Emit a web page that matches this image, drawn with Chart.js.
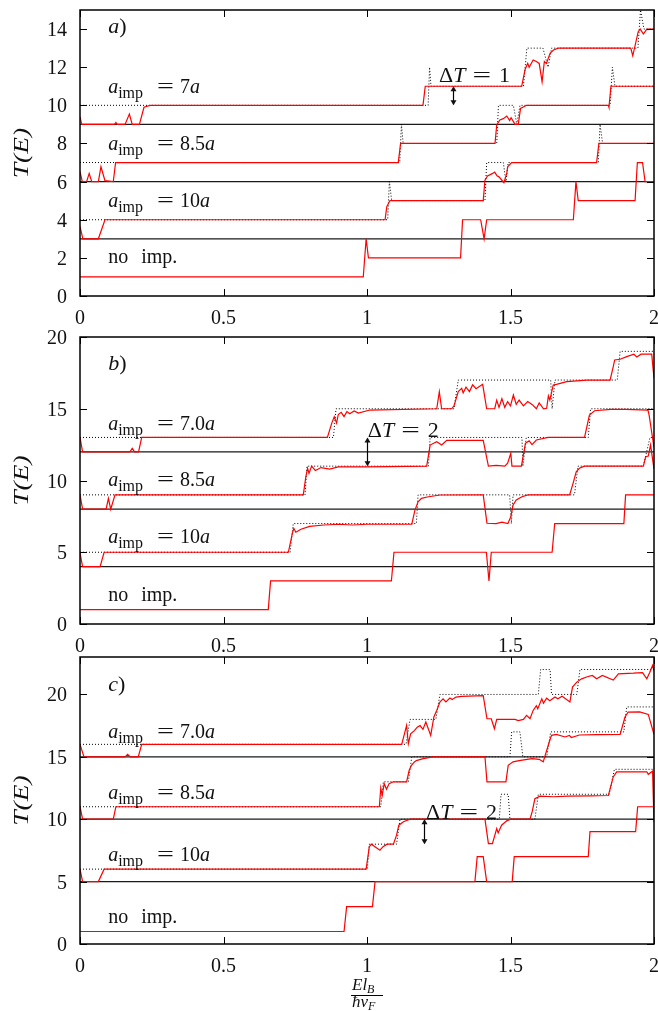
<!DOCTYPE html>
<html>
<head>
<meta charset="utf-8">
<script src="https://cdn.jsdelivr.net/npm/chart.js@4.4.1/dist/chart.umd.min.js"></script>
<style>
  html, body { margin: 0; padding: 0; background: #fff; }
  #wrap { position: relative; width: 658px; height: 1011px; }
  #wrap canvas { position: absolute; left: 0; }
</style>
</head>
<body>
<div id="wrap">
  <canvas id="panel-a" width="658" height="340" style="top:0px"></canvas>
  <canvas id="panel-b" width="658" height="340" style="top:320px"></canvas>
  <canvas id="panel-c" width="658" height="371" style="top:640px"></canvas>
</div>
<script>
// ---- panel a) : offsets 3 / 6 / 9 ----
const A_OFFSETS = [3, 6, 9];
const A_NOIMP = [[0,1],[0.987,1],[0.997,3],[1.005,2],[1.326,2],[1.333,4],[1.396,4],[1.408,3],[1.417,4],[1.719,4],[1.728,6],[1.736,5],[1.934,5],[1.942,7],[1.960,7],[1.969,6],[2,6]];
const A_10_CLEAN = [[0,4],[1.072,4],[1.078,6],[1.086,5],[1.411,5],[1.417,7],[1.475,7],[1.484,6],[1.492,7],[1.806,7],[1.812,9],[1.821,8],[2,8]];
const A_10_IMP = [[0,3.65],[0.01,3],[0.064,3],[0.087,4],[1.063,4],[1.069,4.69],[1.08,5],[1.405,5],[1.411,6.08],[1.42,6.3],[1.438,6.43],[1.445,6.5],[1.453,6.3],[1.46,6.25],[1.477,5.94],[1.487,6.43],[1.49,6.78],[1.504,7],[1.8,7],[1.808,8],[2,8]];
const A_85_CLEAN = [[0,7],[1.114,7],[1.12,9],[1.126,8],[1.452,8],[1.458,10],[1.51,10],[1.522,9],[1.533,10],[1.847,10],[1.855,12],[1.864,11],[2,11]];
const A_85_IMP = [[0,6.52],[0.008,6],[0.023,6],[0.032,6.43],[0.041,6],[0.064,6],[0.073,6.78],[0.087,6.05],[0.116,6],[0.124,7],[1.109,7],[1.117,8],[1.446,8],[1.452,8.97],[1.463,9.23],[1.475,9.3],[1.487,9.44],[1.497,9.2],[1.502,9.35],[1.516,9],[1.527,9],[1.535,9.84],[1.556,10],[1.841,10],[1.843,9.9],[1.85,11],[2,11]];
const A_7_CLEAN = [[0,10],[1.213,10],[1.218,12],[1.223,11],[1.545,11],[1.557,13],[1.613,13],[1.631,12],[1.643,13],[1.944,13],[1.953,15],[1.965,14],[2,14]];
const A_7_IMP = [[0,9.4],[0.006,9],[0.12,9],[0.125,9.1],[0.13,9],[0.157,9],[0.172,9.54],[0.182,9],[0.207,9],[0.223,9.9],[0.244,10],[1.195,10],[1.203,11],[1.539,11],[1.551,11.89],[1.56,12.2],[1.565,12],[1.579,12.38],[1.59,12.3],[1.6,12.2],[1.61,11.24],[1.618,12.3],[1.625,12.2],[1.638,12.73],[1.65,12.9],[1.667,13],[1.919,13],[1.926,12.6],[1.945,13.86],[1.952,14],[1.963,13.74],[1.975,14],[2,14]];

// ---- panel b) : offsets 4 / 8 / 12 ----
const B_OFFSETS = [4, 8, 12];
const B_NOIMP = [[0,1],[0.656,1],[0.664,3],[1.085,3],[1.094,5],[1.416,5],[1.425,3],[1.433,5],[1.645,5],[1.654,7],[1.895,7],[1.901,9],[2,9]];
const B_10_CLEAN = [[0,5],[0.732,5],[0.743,7],[1.172,7],[1.178,9],[1.497,9],[1.503,7],[1.509,9],[1.723,9],[1.735,11],[1.963,11],[1.986,13],[2,13]];
const B_10_IMP = [[0,4.95],[0.009,4],[0.07,4],[0.084,5],[0.726,5],[0.74,6.32],[0.745,6.67],[0.752,6.4],[0.77,6.6],[0.8,6.8],[0.85,6.9],[0.9,6.95],[0.95,6.9],[1.0,6.95],[1.156,6.95],[1.167,7.94],[1.178,8.52],[1.19,8.76],[1.21,8.85],[1.254,8.99],[1.405,9],[1.418,7.02],[1.45,7],[1.47,7.1],[1.491,7],[1.501,7.48],[1.509,8.29],[1.52,8.64],[1.54,8.87],[1.561,9],[1.706,9],[1.718,9.8],[1.729,10.61],[1.74,10.85],[1.758,11],[1.963,11],[1.971,11.66],[1.98,11.7],[1.988,12.47],[2,10.8]];
const B_85_CLEAN = [[0,9],[0.784,9],[0.791,11],[1.214,11],[1.22,13],[1.54,13],[1.543,11],[1.555,13],[1.771,13],[1.779,15],[2,15]];
const B_85_IMP = [[0,9],[0.009,8],[0.091,8],[0.099,8.76],[0.107,8],[0.122,9],[0.778,9],[0.787,10.27],[0.793,10.85],[0.798,10.5],[0.807,11],[0.82,10.7],[0.84,10.9],[0.87,10.8],[0.9,10.95],[1.0,10.95],[1.208,11],[1.22,12.47],[1.243,12.7],[1.26,12.47],[1.278,12.8],[1.3,12.8],[1.405,12.8],[1.423,11],[1.45,11.05],[1.48,11],[1.49,11.2],[1.501,11.9],[1.505,11],[1.538,11],[1.552,12.59],[1.565,12.76],[1.575,12.5],[1.59,12.82],[1.631,13],[1.758,13],[1.775,14.56],[1.793,14.86],[1.85,14.95],[1.9,14.95],[1.979,14.9],[1.983,14.56],[2,12.3]];
const B_7_CLEAN = [[0,13],[0.883,13],[0.892,15],[1.303,15],[1.318,17],[1.64,17],[1.645,15],[1.655,17],[1.872,17],[1.882,19],[2,19]];
const B_7_IMP = [[0,13],[0.009,12],[0.174,12],[0.182,12.24],[0.19,12],[0.204,12],[0.215,13],[0.862,13],[0.877,13.98],[0.886,14.45],[0.894,14],[0.9,14.6],[0.91,14.75],[0.92,14.45],[0.93,14.8],[0.94,14.65],[0.955,14.85],[0.97,14.7],[1.01,14.91],[1.243,15],[1.252,16.19],[1.26,15],[1.295,15],[1.303,15.2],[1.318,16.19],[1.33,16.42],[1.335,16.1],[1.345,16.5],[1.357,16.2],[1.368,16.66],[1.38,16.4],[1.403,16.7],[1.417,15],[1.445,15],[1.452,15.6],[1.46,15.1],[1.47,15.7],[1.48,15.1],[1.49,15.5],[1.5,15.2],[1.51,15.96],[1.52,15.3],[1.53,15.6],[1.545,15.2],[1.56,15.5],[1.575,15.3],[1.59,15],[1.6,15.4],[1.615,15],[1.626,15.03],[1.632,15.9],[1.637,15.6],[1.649,16.66],[1.66,16.7],[1.696,16.89],[1.766,17],[1.847,17],[1.858,17.93],[1.863,18.4],[1.882,18.45],[1.905,18.63],[1.93,18.8],[1.94,18.6],[1.955,18.8],[1.992,18.8],[2,17.12]];

// ---- panel c) : offsets 5 / 10 / 15 ----
const C_OFFSETS = [5, 10, 15];
const C_NOIMP = [[0,1],[0.92,1],[0.929,3],[1.019,3],[1.028,5],[1.376,5],[1.384,7],[1.405,7],[1.417,5],[1.506,5],[1.513,7],[1.771,7],[1.777,9],[1.936,9],[1.943,11],[2,11]];
const C_10_CLEAN = [[0,6],[1.001,6],[1.008,8],[1.103,8],[1.115,10],[1.461,10],[1.467,12],[1.492,12],[1.498,10],[1.585,10],[1.597,12],[1.844,12],[1.862,14],[2,14]];
const C_10_IMP = [[0,6],[0.009,5],[0.064,5],[0.084,6],[0.997,6],[1.008,7.78],[1.015,8],[1.034,7.7],[1.045,7.52],[1.056,7.8],[1.07,8],[1.092,8],[1.103,8.72],[1.111,9.52],[1.127,9.8],[1.15,10],[1.411,10],[1.423,8.05],[1.437,8.05],[1.452,9.25],[1.457,8.9],[1.469,9.52],[1.487,9.87],[1.5,10],[1.568,10],[1.576,10.64],[1.585,11.65],[1.603,11.85],[1.65,11.8],[1.7,11.85],[1.78,11.87],[1.841,11.9],[1.858,13.39],[1.87,13.79],[1.975,13.8],[1.98,13.6],[1.995,13.85],[2,9.78]];
const C_85_CLEAN = [[0,11],[1.048,11],[1.057,13],[1.144,13],[1.156,15],[1.498,15],[1.504,17],[1.533,17],[1.543,15],[1.626,15],[1.64,17],[1.895,17],[1.905,19],[2,19]];
const C_85_IMP = [[0,11],[0.009,10],[0.116,10],[0.125,11],[1.043,11],[1.048,12.5],[1.053,11.92],[1.06,12.85],[1.068,12.4],[1.077,12.85],[1.092,13],[1.138,13],[1.147,13.92],[1.155,14.32],[1.165,14.59],[1.172,14.7],[1.196,14.85],[1.23,15],[1.411,15],[1.418,13],[1.484,13],[1.492,14.32],[1.509,14.6],[1.53,14.7],[1.575,14.85],[1.6,14.8],[1.614,14.6],[1.635,16.19],[1.643,16.72],[1.66,16.8],[1.69,16.59],[1.705,16.72],[1.712,16.55],[1.74,16.75],[1.8,16.78],[1.882,16.8],[1.899,18.19],[1.91,18.59],[1.95,18.6],[1.98,18.4],[2,16.8]];
const C_7_CLEAN = [[0,16],[1.136,16],[1.15,18],[1.24,18],[1.254,20],[1.597,20],[1.605,22],[1.638,22],[1.643,20],[1.731,20],[1.742,22],[2,22]];
const C_7_IMP = [[0,16],[0.014,15],[0.157,15],[0.166,15.2],[0.175,15],[0.203,15],[0.215,16],[1.121,16],[1.138,17.52],[1.144,16.05],[1.152,16.85],[1.165,17.1],[1.175,17.38],[1.185,17.5],[1.195,17.2],[1.205,17.79],[1.222,16.72],[1.233,18.19],[1.243,18.72],[1.254,19.39],[1.265,19.65],[1.275,19.4],[1.289,19.71],[1.297,19.6],[1.31,19.79],[1.33,19.85],[1.405,19.9],[1.418,18.05],[1.433,18.05],[1.444,17.25],[1.452,18],[1.516,18],[1.527,17.9],[1.545,18],[1.556,18.32],[1.568,18.05],[1.579,18.72],[1.59,19.1],[1.595,18.85],[1.609,19.65],[1.615,19.3],[1.626,19.7],[1.637,19.5],[1.655,19.8],[1.665,19.65],[1.68,19.85],[1.707,19.4],[1.716,20.59],[1.731,20.99],[1.748,21.25],[1.765,21.4],[1.785,21.52],[1.8,21.25],[1.82,21.52],[1.858,21.15],[1.876,21.65],[1.928,21.7],[1.96,21.75],[1.975,21.25],[1.985,21.75],[1.995,22.32],[2,21.9]];

const X_RANGE = [0, 2];
const X_STEP = 0.5;

(function (document) {
  "use strict";

  const SERIF = '"Liberation Serif", "Times New Roman", serif';
  const font = (style, size) => `${style} ${size}px ${SERIF}`;

  // draws a run of text pieces left to right, returns the end x
  const drawRun = (ctx, x, y, pieces) => {
    pieces.forEach((p) => {
      if (p.gap) { x += p.gap; return; }
      ctx.font = font(p.it ? "italic" : "normal", p.size || 20);
      const sx = p.sx || 1;
      ctx.save();
      ctx.translate(x, y + (p.dy || 0));
      ctx.scale(sx, 1);
      ctx.fillText(p.t, 0, 0);
      ctx.restore();
      x += ctx.measureText(p.t).width * sx;
    });
    return x;
  };

  const aimpLabel = (val) => [
    { t: "a", it: true },
    { t: "imp", size: 16, dy: 5 },
    { gap: 14 },
    { t: "=", sx: 1.5 },
    { gap: 6 },
    { t: val },
    { t: "a", it: true },
  ];

  const arrow = (ctx, px, p1, p2) => {
    const h = 5, w = 3;
    ctx.beginPath();
    ctx.moveTo(px, p1 + 1); ctx.lineTo(px, p2 - 1);
    ctx.stroke();
    ctx.beginPath();
    ctx.moveTo(px, p1); ctx.lineTo(px - w, p1 + h); ctx.lineTo(px + w, p1 + h); ctx.closePath();
    ctx.moveTo(px, p2); ctx.lineTo(px - w, p2 - h); ctx.lineTo(px + w, p2 - h); ctx.closePath();
    ctx.fill();
  };

  const decor = {
    id: "decor",
    afterDatasetsDraw(chart, args, o) {
      const { ctx, chartArea: a, scales: { x, y } } = chart;
      ctx.save();
      ctx.fillStyle = "#111";
      ctx.strokeStyle = "#000";

      // mirrored inward ticks
      ctx.lineWidth = 1;
      ctx.beginPath();
      x.ticks.forEach((t) => {
        const px = Math.round(x.getPixelForValue(t.value)) + 0.5;
        ctx.moveTo(px, a.bottom); ctx.lineTo(px, a.bottom - 7);
        ctx.moveTo(px, a.top); ctx.lineTo(px, a.top + 7);
      });
      y.ticks.forEach((t) => {
        const py = Math.round(y.getPixelForValue(t.value)) + 0.5;
        ctx.moveTo(a.left, py); ctx.lineTo(a.left + 7, py);
        ctx.moveTo(a.right, py); ctx.lineTo(a.right - 7, py);
      });
      ctx.stroke();
      ctx.lineWidth = 1.5;
      ctx.strokeRect(a.left, a.top, a.right - a.left, a.bottom - a.top);

      // tick labels
      ctx.font = font("normal", 20);
      ctx.textBaseline = "alphabetic";
      ctx.textAlign = "center";
      x.ticks.forEach((t) => ctx.fillText(String(t.value), x.getPixelForValue(t.value), a.bottom + 27.5));
      ctx.textAlign = "right";
      y.ticks.forEach((t) => ctx.fillText(String(t.value), a.left - 13, y.getPixelForValue(t.value) + 7));
      ctx.textAlign = "left";

      // y title T(E)
      ctx.save();
      ctx.translate(28, (a.top + a.bottom) / 2);
      ctx.rotate(-Math.PI / 2);
      ctx.font = font("italic", 22);
      const tw = ctx.measureText("T(E)").width * 1.25;
      ctx.scale(1.25, 1);
      ctx.fillText("T(E)", -tw / 2 / 1.25, 0);
      ctx.restore();

      // panel tag and curve labels
      const lx = x.getPixelForValue(o.labelX);
      drawRun(ctx, lx, y.getPixelForValue(o.tagY), [{ t: o.tag, it: true, size: 22 }, { t: ")", size: 22 }]);
      o.labels.forEach((l) => drawRun(ctx, lx, y.getPixelForValue(l.y), aimpLabel(l.v)));
      drawRun(ctx, lx, y.getPixelForValue(o.noImpY), [{ t: "no" }, { gap: 13 }, { t: "imp." }]);

      // Delta T marker
      const d = o.deltaT;
      drawRun(ctx, x.getPixelForValue(d.tx), y.getPixelForValue(d.ty), [
        { t: "\u0394", size: 22 }, { t: "T", it: true, size: 22 }, { gap: 7 },
        { t: "=", size: 22, sx: 1.5 }, { gap: 8 }, { t: d.val, size: 22 },
      ]);
      ctx.lineWidth = 1.2;
      const ax = Math.round(x.getPixelForValue(d.ax)) + 0.5;
      arrow(ctx, ax, y.getPixelForValue(d.y1), y.getPixelForValue(d.y2));

      // x title as a fraction, bottom panel only
      if (o.xTitle) {
        const cx = x.getPixelForValue(1.0);
        const nb = a.bottom + 46, db = a.bottom + 63;
        drawRun(ctx, cx - 15, nb, [{ t: "E", it: true, size: 17 }, { t: "l", it: true, size: 17 }, { t: "B", it: true, size: 12, dy: 3 }]);
        drawRun(ctx, cx - 15, db, [{ t: "\u0127", it: true, size: 17 }, { t: "v", it: true, size: 17 }, { t: "F", it: true, size: 12, dy: 3 }]);
        ctx.lineWidth = 1;
        ctx.beginPath();
        ctx.moveTo(cx - 16, nb + 5.5); ctx.lineTo(cx + 16, nb + 5.5);
        ctx.stroke();
      }
      ctx.restore();
    },
  };

  const line = (pts, color, width, dash) => ({
    data: pts.map(([px, py]) => ({ x: px, y: py })),
    borderColor: color,
    borderWidth: width,
    borderDash: dash || [],
    pointRadius: 0,
    tension: 0,
    fill: false,
  });

  const makePanel = (id, cfg) => {
    const datasets = [];
    cfg.imp.forEach((c) => datasets.push(line(c, "#ff0000", 1.2)));
    cfg.clean.forEach((c) => datasets.push(line(c, "#000000", 1, [1, 2])));
    cfg.offsets.forEach((b) => datasets.push(line([[X_RANGE[0], b], [X_RANGE[1], b]], "#1a1a1a", 1.2)));

    return new Chart(document.getElementById(id).getContext("2d"), {
      type: "line",
      data: { datasets },
      options: {
        responsive: false,
        animation: false,
        events: [],
        layout: { padding: { left: 0, right: 4, top: cfg.padTop, bottom: 0 } },
        plugins: {
          legend: { display: false },
          tooltip: { enabled: false },
          decor: cfg.decor,
        },
        scales: {
          x: {
            type: "linear",
            min: X_RANGE[0],
            max: X_RANGE[1],
            grid: { display: false, drawTicks: false },
            border: { display: false },
            ticks: { display: false, stepSize: X_STEP },
            afterFit: (s) => { s.height = cfg.xAxisH; },
          },
          y: {
            min: 0,
            max: cfg.yMax,
            grid: { display: false, drawTicks: false },
            border: { display: false },
            ticks: { display: false, stepSize: cfg.yStep, includeBounds: false },
            afterFit: (s) => { s.width = 80; },
          },
        },
      },
      plugins: [decor],
    });
  };

  makePanel("panel-a", {
    yMax: 15, yStep: 2, padTop: 10, xAxisH: 44,
    offsets: A_OFFSETS,
    imp: [A_NOIMP, A_10_IMP, A_85_IMP, A_7_IMP],
    clean: [A_10_CLEAN, A_85_CLEAN, A_7_CLEAN],
    decor: {
      tag: "a", tagY: 13.77, labelX: 0.098,
      labels: [{ v: "7", y: 10.63 }, { v: "8.5", y: 7.66 }, { v: "10", y: 4.69 }],
      noImpY: 1.71,
      deltaT: { tx: 1.251, ty: 11.22, ax: 1.3, y1: 11, y2: 10, val: "1" },
    },
  });

  makePanel("panel-b", {
    yMax: 20, yStep: 5, padTop: 17, xAxisH: 36,
    offsets: B_OFFSETS,
    imp: [B_NOIMP, B_10_IMP, B_85_IMP, B_7_IMP],
    clean: [B_10_CLEAN, B_85_CLEAN, B_7_CLEAN],
    decor: {
      tag: "b", tagY: 17.7, labelX: 0.098,
      labels: [{ v: "7.0", y: 13.5 }, { v: "8.5", y: 9.64 }, { v: "10", y: 5.67 }],
      noImpY: 1.63,
      deltaT: { tx: 1.003, ty: 13.03, ax: 1.0, y1: 13, y2: 11, val: "2" },
    },
  });

  makePanel("panel-c", {
    yMax: 23, yStep: 5, padTop: 17, xAxisH: 67,
    offsets: C_OFFSETS,
    imp: [C_NOIMP, C_10_IMP, C_85_IMP, C_7_IMP],
    clean: [C_10_CLEAN, C_85_CLEAN, C_7_CLEAN],
    decor: {
      tag: "c", tagY: 20.3, labelX: 0.098,
      labels: [{ v: "7.0", y: 16.5 }, { v: "8.5", y: 11.66 }, { v: "10", y: 6.64 }],
      noImpY: 1.65,
      deltaT: { tx: 1.206, ty: 10.0, ax: 1.2, y1: 10, y2: 8, val: "2" },
      xTitle: true,
    },
  });
})(document);
</script>
</body>
</html>
